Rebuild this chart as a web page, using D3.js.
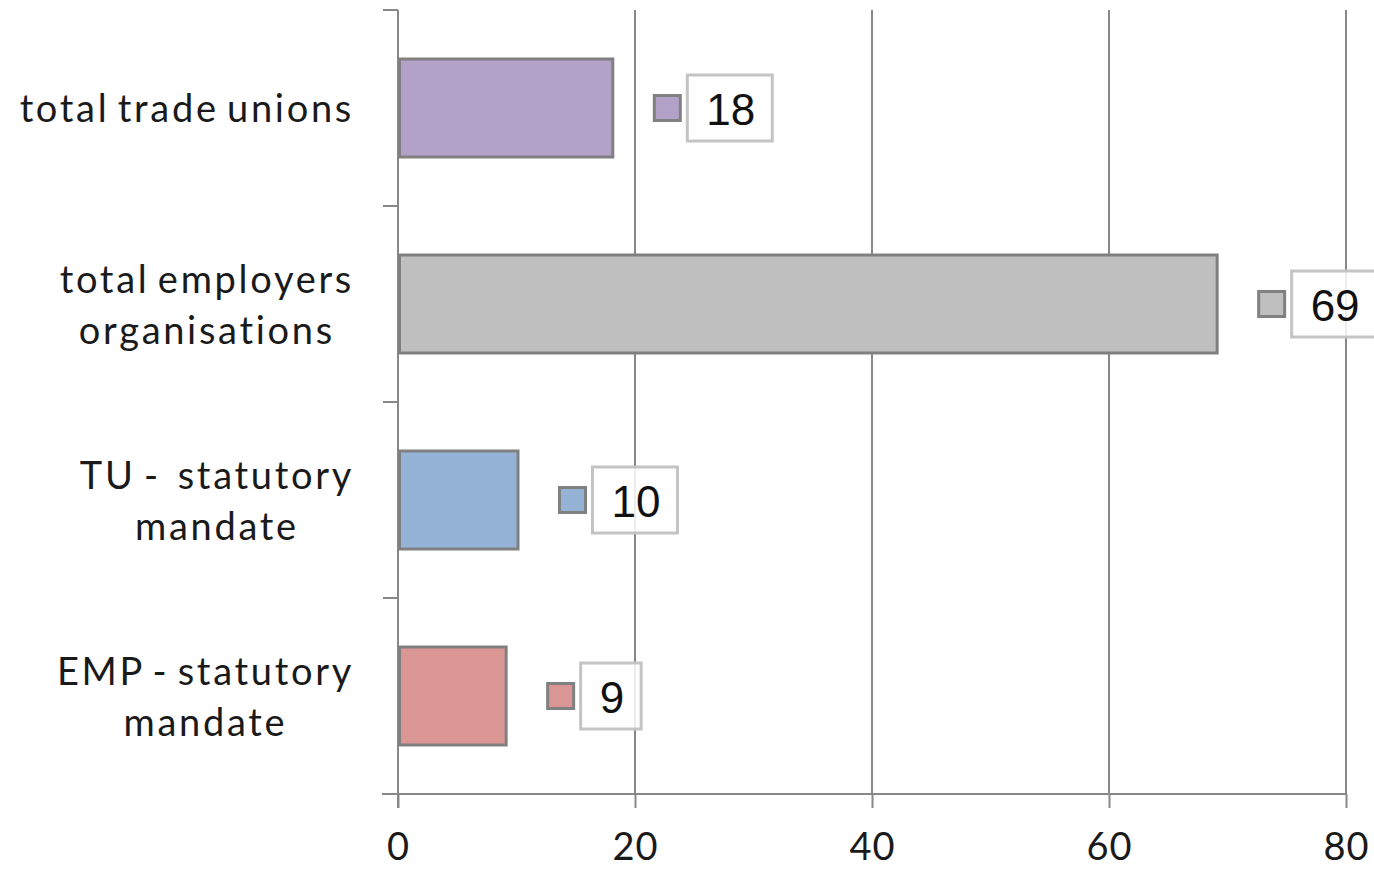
<!DOCTYPE html>
<html>
<head>
<meta charset="utf-8">
<script src="https://cdn.jsdelivr.net/npm/d3@7"></script>
<style>
html,body{margin:0;padding:0;background:#fff;}
svg{display:block;}
</style>
</head>
<body>
<svg id="chart" width="1374" height="869"></svg>
<script>
const categories = [
  ["total trade unions"],
  ["total employers", "organisations"],
  ["TU -  statutory", "mandate"],
  ["EMP - statutory", "mandate"]
];
const values = [18, 69, 10, 9];
const colors = ["#B3A2C7", "#BFBFBF", "#95B3D7", "#D99694"];
const xTicks = [0, 20, 40, 60, 80];

(function () {
const svg = d3.select("#chart");
const pLeft = 398, pRight = 1346, pTop = 10, pBottom = 794;
const x = d3.scaleLinear().domain([0, 80]).range([pLeft, pRight]);
const keys = categories.map(c => c.join(" "));
const y = d3.scaleBand().domain(keys).range([pTop, pBottom]).paddingInner(0.5).paddingOuter(0.25);
const lineCol = "#888888";

// gridlines
svg.append("g").selectAll("line").data(xTicks.slice(1)).join("line")
  .attr("x1", d => x(d)).attr("x2", d => x(d))
  .attr("y1", pTop).attr("y2", pBottom)
  .attr("stroke", lineCol).attr("stroke-width", 2);

// x axis
const xAxis = d3.axisBottom(x).tickValues(xTicks).tickSize(14).tickPadding(25).tickFormat(d3.format("d"));
const gx = svg.append("g").attr("transform", `translate(0,${pBottom})`).call(xAxis);
gx.select(".domain").remove();
gx.selectAll(".tick line").attr("stroke", lineCol).attr("stroke-width", 2);
gx.selectAll(".tick text").attr("fill", "#1a1a1a").attr("font-family", "Lato, sans-serif").attr("font-size", 38).attr("letter-spacing", 1);
svg.append("line").attr("x1", 382).attr("x2", pRight).attr("y1", pBottom).attr("y2", pBottom)
  .attr("stroke", lineCol).attr("stroke-width", 2);

// y axis line & ticks at category boundaries
svg.append("line").attr("x1", pLeft).attr("x2", pLeft).attr("y1", pTop).attr("y2", pBottom + 14)
  .attr("stroke", lineCol).attr("stroke-width", 2);
const bounds = d3.range(keys.length + 1).map(i => pTop + i * (pBottom - pTop) / keys.length);
svg.append("g").selectAll("line").data(bounds).join("line")
  .attr("x1", 383).attr("x2", pLeft).attr("y1", d => d).attr("y2", d => d)
  .attr("stroke", lineCol).attr("stroke-width", 2);

// bars
svg.append("g").selectAll("rect").data(values).join("rect")
  .attr("x", x(0) + 1.5)
  .attr("y", (d, i) => y(keys[i]))
  .attr("width", d => x(d) - x(0))
  .attr("height", y.bandwidth())
  .attr("fill", (d, i) => colors[i])
  .attr("stroke", "#808080").attr("stroke-width", 3);

// category labels
const labelRight = 354, lineGap = 51;
categories.forEach((lines, i) => {
  const cy = y(keys[i]) + y.bandwidth() / 2 - 1;
  const g = svg.append("g");
  const texts = lines.map((t, j) => g.append("text")
    .attr("y", cy + (j - (lines.length - 1) / 2) * lineGap)
    .attr("dominant-baseline", "central")
    .attr("text-anchor", "middle")
    .attr("font-family", "Lato, sans-serif")
    .attr("font-size", 38)
    .attr("letter-spacing", 2.7)
    .attr("word-spacing", -4)
    .style("white-space", "pre")
    .attr("fill", "#1a1a1a")
    .text(t));
  const maxW = d3.max(texts, t => t.node().getComputedTextLength());
  texts.forEach(t => t.attr("x", labelRight - maxW / 2));
});

// data labels with legend keys
values.forEach((v, i) => {
  const cy = y(keys[i]) + y.bandwidth() / 2;
  const kx = x(v) + 43;
  svg.append("rect").attr("x", kx).attr("y", cy - 12.5).attr("width", 26).attr("height", 25)
    .attr("fill", colors[i]).attr("stroke", "#808080").attr("stroke-width", 3);
  const bx = kx + 33;
  const txt = svg.append("text")
    .attr("y", cy + 1).attr("dominant-baseline", "central")
    .attr("font-family", "Liberation Sans, Arial, sans-serif").attr("font-size", 44)
    .attr("fill", "#111").text(v);
  const tw = txt.node().getComputedTextLength();
  const bw = tw + 36;
  svg.insert("rect", () => txt.node()).attr("x", bx).attr("y", cy - 33).attr("width", bw).attr("height", 66)
    .attr("fill", "#fff").attr("fill-opacity", 0.85)
    .attr("stroke", "#C4C4C4").attr("stroke-width", 3);
  txt.attr("x", bx + 19);
});
})();
</script>
</body>
</html>
